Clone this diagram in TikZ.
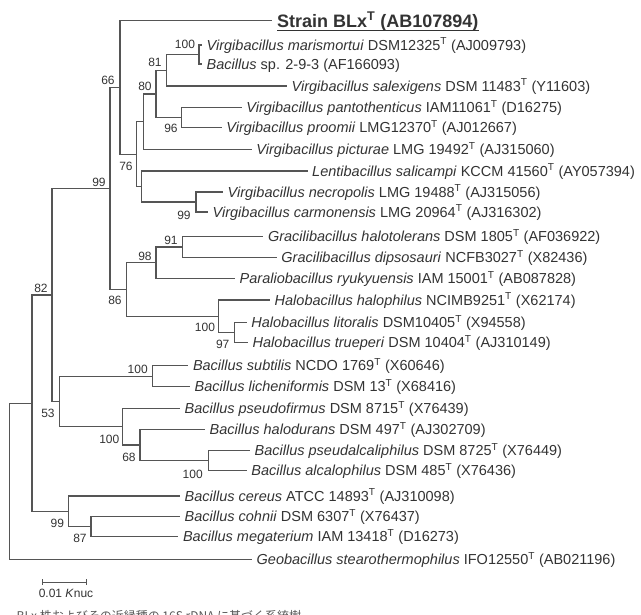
\documentclass[tikz,border=0pt]{standalone}
\usepackage{fontspec}
\setmainfont{Liberation Sans}
\newfontfamily\cjkfont{Noto Sans CJK JP}
\newcommand{\supT}{\textsuperscript{T}}
\definecolor{linegray}{HTML}{555555}
\definecolor{txtgray}{HTML}{333333}
\definecolor{capgray}{HTML}{555555}
\tikzset{
  br/.style={draw=linegray, line width=1.3pt},
  leaflab/.style={anchor=west, font=\fontsize{14.5}{16}\selectfont, text=txtgray, inner sep=0pt, text height=10.4pt, text depth=0pt},
  bslab/.style={font=\fontsize{12}{14}\selectfont, text=txtgray, inner sep=0pt},
}
\newcommand{\leaf}[4]{%
  \coordinate (#1) at (#2,#3);
  \node[leaflab] (#1t) at ([xshift=4.5pt]#1) {#4};
}
\begin{document}
\begin{tikzpicture}[x=1pt,y=-1pt]
\clip (0,0) rectangle (641,615);
\useasboundingbox (0,0) rectangle (641,615);
% internal nodes
\coordinate (root) at (9.3,481.2);
\coordinate (n32) at (32,403.2);
\coordinate (n82) at (52,295);
\coordinate (n99a) at (110,188.4);
\coordinate (n66) at (120,87.5);
\coordinate (n76) at (136.7,154.3);
\coordinate (nA) at (143.3,121.7);
\coordinate (n80) at (156,94);
\coordinate (n81) at (166.7,70.3);
\coordinate (n100a) at (199,54.5);
\coordinate (n96) at (181.7,117.7);
\coordinate (nB) at (141.7,186.5);
\coordinate (n99b) at (196,202);
\coordinate (n86) at (126.7,289.5);
\coordinate (n98) at (156,262.7);
\coordinate (n91) at (182.7,247);
\coordinate (n100h) at (218.3,316.2);
\coordinate (n97) at (234.3,332.3);
\coordinate (n53) at (59.3,401.5);
\coordinate (n100s) at (152.3,376.2);
\coordinate (n100p) at (122.7,426.7);
\coordinate (n68) at (140,445);
\coordinate (n100al) at (208.3,460.7);
\coordinate (n99c) at (68.3,511.3);
\coordinate (n87) at (91,526.7);
% leaves
\coordinate (strain) at (272,20.7);
\node[anchor=west, font=\bfseries\fontsize{18}{20}\selectfont, text=txtgray, inner sep=0pt, text height=12.9pt, text depth=0pt] (straint) at ([xshift=5pt]strain) {Strain BLx\supT{} (AB107894)};
\draw[txtgray, line width=1.1pt] ([yshift=-3pt]straint.south west) -- ([yshift=-3pt]straint.south east);
\leaf{maris}{202}{45}{\textit{Virgibacillus marismortui} DSM12325\supT{} (AJ009793)}
\leaf{bsp}{202}{64}{\textit{Bacillus} sp. 2-9-3 (AF166093)}
\leaf{salex}{287}{86}{\textit{Virgibacillus salexigens} DSM 11483\supT{} (Y11603)}
\leaf{panto}{241.7}{107.7}{\textit{Virgibacillus pantothenticus} IAM11061\supT{} (D16275)}
\leaf{proom}{221.7}{127.7}{\textit{Virgibacillus proomii} LMG12370\supT{} (AJ012667)}
\leaf{pictu}{251.7}{149.3}{\textit{Virgibacillus picturae} LMG 19492\supT{} (AJ315060)}
\leaf{lenti}{307.5}{171}{\textit{Lentibacillus salicampi} KCCM 41560\supT{} (AY057394)}
\leaf{necro}{223}{192}{\textit{Virgibacillus necropolis} LMG 19488\supT{} (AJ315056)}
\leaf{carmo}{208}{212}{\textit{Virgibacillus carmonensis} LMG 20964\supT{} (AJ316302)}
\leaf{halot}{263.3}{236.7}{\textit{Gracilibacillus halotolerans} DSM 1805\supT{} (AF036922)}
\leaf{dipso}{276.7}{257.3}{\textit{Gracilibacillus dipsosauri} NCFB3027\supT{} (X82436)}
\leaf{parali}{235}{278.3}{\textit{Paraliobacillus ryukyuensis} IAM 15001\supT{} (AB087828)}
\leaf{halop}{270}{300}{\textit{Halobacillus halophilus} NCIMB9251\supT{} (X62174)}
\leaf{litor}{246.7}{322.3}{\textit{Halobacillus litoralis} DSM10405\supT{} (X94558)}
\leaf{truep}{248}{342.3}{\textit{Halobacillus trueperi} DSM 10404\supT{} (AJ310149)}
\leaf{subti}{188.3}{365.7}{\textit{Bacillus subtilis} NCDO 1769\supT{} (X60646)}
\leaf{liche}{190}{386.7}{\textit{Bacillus licheniformis} DSM 13\supT{} (X68416)}
\leaf{pfirm}{180}{408.3}{\textit{Bacillus pseudofirmus} DSM 8715\supT{} (X76439)}
\leaf{halod}{205}{429.3}{\textit{Bacillus halodurans} DSM 497\supT{} (AJ302709)}
\leaf{palca}{250}{450.7}{\textit{Bacillus pseudalcaliphilus} DSM 8725\supT{} (X76449)}
\leaf{alcal}{246.7}{470.7}{\textit{Bacillus alcalophilus} DSM 485\supT{} (X76436)}
\leaf{cereu}{180}{496}{\textit{Bacillus cereus} ATCC 14893\supT{} (AJ310098)}
\leaf{cohni}{180}{516.7}{\textit{Bacillus cohnii} DSM 6307\supT{} (X76437)}
\leaf{megat}{178.3}{536.7}{\textit{Bacillus megaterium} IAM 13418\supT{} (D16273)}
\leaf{geoba}{252}{559.3}{\textit{Geobacillus stearothermophilus} IFO12550\supT{} (AB021196)}
% branches
\foreach \a/\b in {root/n32, root/geoba, n32/n82, n32/n99c, n82/n99a, n82/n53,
  n99a/n66, n99a/n86, n66/strain, n66/n76, n76/nA, n76/nB, nA/n80, nA/pictu,
  n80/n81, n80/n96, n81/n100a, n81/salex, n100a/maris, n100a/bsp,
  n96/panto, n96/proom, nB/lenti, nB/n99b, n99b/necro, n99b/carmo,
  n86/n98, n86/n100h, n98/n91, n98/parali, n91/halot, n91/dipso,
  n100h/halop, n100h/n97, n97/litor, n97/truep,
  n53/n100s, n53/n100p, n100s/subti, n100s/liche, n100p/pfirm, n100p/n68,
  n68/halod, n68/n100al, n100al/palca, n100al/alcal,
  n99c/cereu, n99c/n87, n87/cohni, n87/megat}
  \draw[br] (\a) |- (\b);
% bootstrap values
\node[bslab] (b100a) at (185,44) {100};
\node[bslab] (b81) at (155,62) {81};
\node[bslab] (b80) at (145,86) {80};
\node[bslab] (b96) at (171,128) {96};
\node[bslab] (b66) at (108,80) {66};
\node[bslab] (b76) at (126,166) {76};
\node[bslab] (b99a) at (99,182) {99};
\node[bslab] (b99b) at (184,215) {99};
\node[bslab] (b91) at (171,240.7) {91};
\node[bslab] (b98) at (145,256) {98};
\node[bslab] (b86) at (115,300.7) {86};
\node[bslab] (b100h) at (205,327.7) {100};
\node[bslab] (b97) at (222.7,344) {97};
\node[bslab] (b82) at (41,288) {82};
\node[bslab] (b100s) at (137.7,369.3) {100};
\node[bslab] (b53) at (48,413) {53};
\node[bslab] (b100p) at (109.3,439.3) {100};
\node[bslab] (b68) at (129,457.3) {68};
\node[bslab] (b100al) at (192.7,474) {100};
\node[bslab] (b99c) at (57.3,523.3) {99};
\node[bslab] (b87) at (80,538.3) {87};
% scale bar
\coordinate (sb1) at (42.7,582.3);
\coordinate (sb2) at (86.7,582.3);
\draw[br, line width=1pt] (sb1) -- (sb2);
\draw[br, line width=1pt] ([yshift=3pt]sb1) -- ([yshift=-3pt]sb1);
\draw[br, line width=1pt] ([yshift=3pt]sb2) -- ([yshift=-3pt]sb2);
\node[bslab] (sbl) at (66,593.5) {0.01 \textit{K}nuc};
% caption (cut off at the lower edge, as in the reference)
\node[anchor=west, inner sep=0pt, text=capgray, font=\cjkfont\fontsize{12}{14}\selectfont] (cap) at (16.5,615.5) {BLx 株およびその近縁種の 16S rDNA に基づく系統樹};
\end{tikzpicture}
\end{document}
